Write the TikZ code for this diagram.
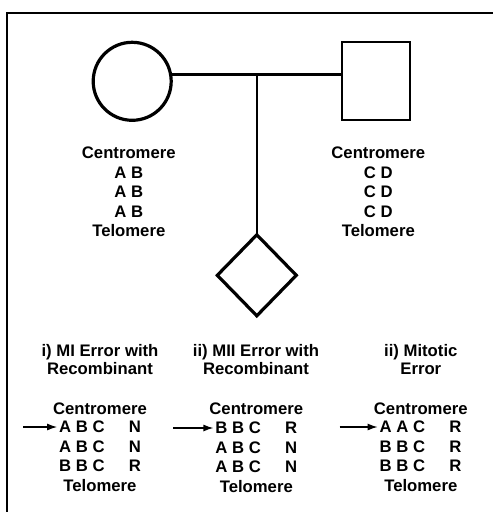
\documentclass[tikz,border=0pt]{standalone}
\usepackage{fontspec}
\setmainfont{Liberation Sans}
\usetikzlibrary{shapes.geometric,arrows.meta}
\begin{document}
\begin{tikzpicture}[x=1pt,y=-1pt,inner sep=0pt,outer sep=0pt,
person/.style={draw,line width=3.2pt},
textblock/.style={align=center,inner sep=2pt,font=\bfseries\fontsize{16.7}{19.4}\selectfont},
pointer/.style={-{Latex[length=10pt,width=7pt]},line width=1.3pt}]
\useasboundingbox (0,0) rectangle (493,512);
\draw[line width=2.8pt] (493,13) -- (7,13) -- (7,512);
% parents and child
\draw (132.2,81.3) node[person,circle,minimum size=78pt] (mother) {};
\draw (376,81) node[draw,line width=2.3pt,rectangle,minimum width=68pt,minimum height=77.5pt] (father) {};
\draw (256.8,275.3) node[person,diamond,minimum width=79pt,minimum height=81pt] (child) {};
\draw[line width=2.6pt] (mother.10) -- (mother.10 -| father.west);
\draw[line width=2.6pt] (child.north) -- (child.north |- mother.10);
\draw (128.8,192) node[textblock] (mothergenes) {Centromere\\A B\\A B\\A B\\Telomere};
\draw (378.3,192) node[textblock] (fathergenes) {Centromere\\C D\\C D\\C D\\Telomere};
% error types
\draw (100,359.3) node[textblock] (title1) {i) MI Error with\\[-1pt]Recombinant};
\draw (256,359.3) node[textblock] (title2) {ii) MII Error with\\[-1pt]Recombinant};
\draw (420.8,359.3) node[textblock] (title3) {ii) Mitotic\\[-1pt]Error};
\draw (100,408.5) node[textblock] (cen1) {Centromere};
\draw (100,427) node[textblock] (row11) {A B C\hspace{1.45em}N};
\draw (100,446.5) node[textblock] (row12) {A B C\hspace{1.45em}N};
\draw (100,466) node[textblock] (row13) {B B C\hspace{1.45em}R};
\draw (100,485.7) node[textblock] (tel1) {Telomere};
\draw (256.3,408.5) node[textblock] (cen2) {Centromere};
\draw (256.3,428) node[textblock] (row21) {B B C\hspace{1.45em}R};
\draw (256.3,447.5) node[textblock] (row22) {A B C\hspace{1.45em}N};
\draw (256.3,467) node[textblock] (row23) {A B C\hspace{1.45em}N};
\draw (256.3,486.2) node[textblock] (tel2) {Telomere};
\draw (420.8,408.5) node[textblock] (cen3) {Centromere};
\draw (420.5,427) node[textblock] (row31) {A A C\hspace{1.45em}R};
\draw (420.5,446.5) node[textblock] (row32) {B B C\hspace{1.45em}R};
\draw (420.5,466) node[textblock] (row33) {B B C\hspace{1.45em}R};
\draw (420.8,485.7) node[textblock] (tel3) {Telomere};
\coordinate (in1) at (23.3,427);
\coordinate (in2) at (173.3,428);
\coordinate (in3) at (339.7,427);
\draw[pointer] (in1) -- (row11.west);
\draw[pointer] (in2) -- (row21.west);
\draw[pointer] (in3) -- (row31.west);
\end{tikzpicture}
\end{document}
